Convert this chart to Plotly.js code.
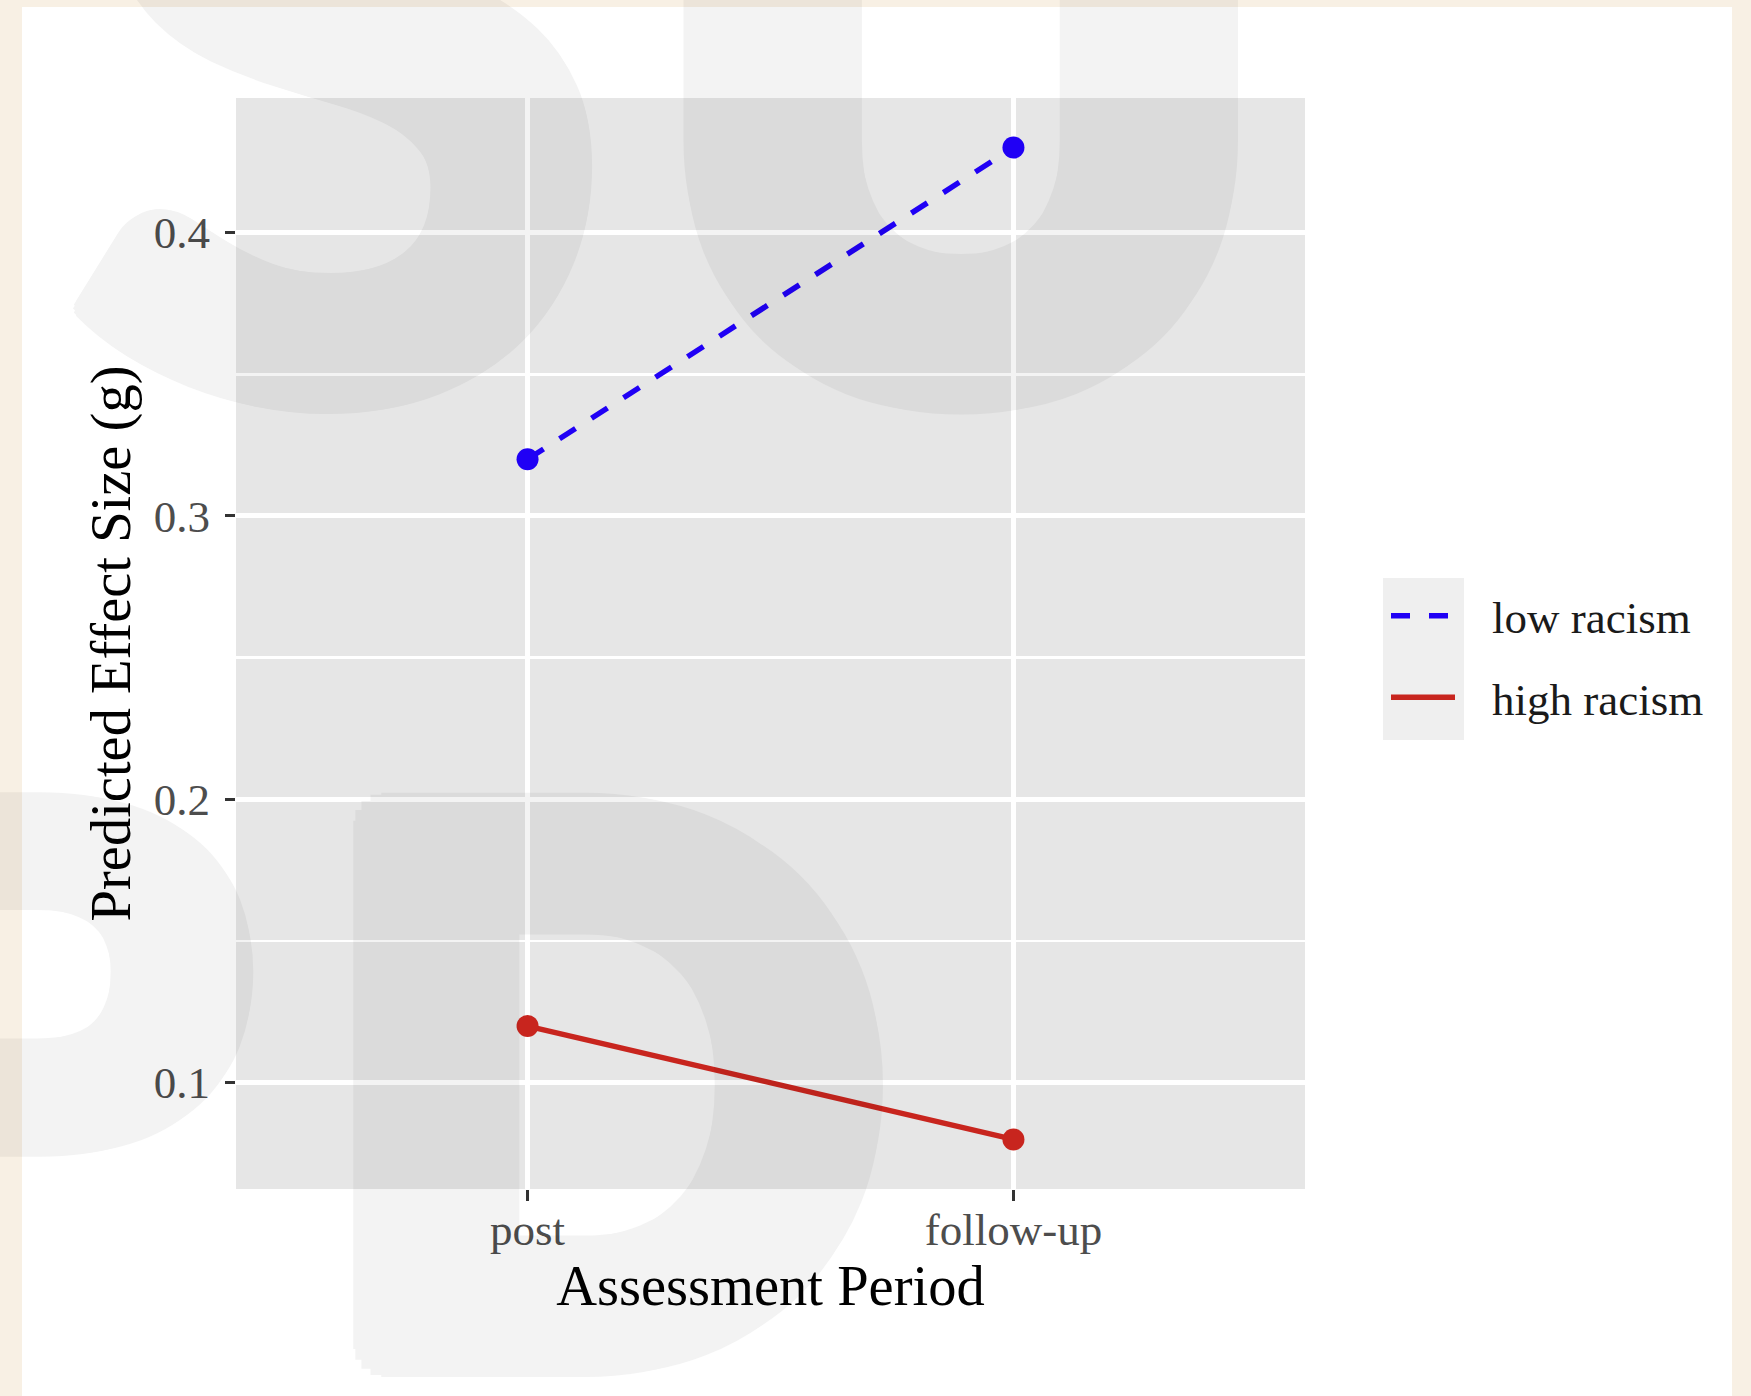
<!DOCTYPE html>
<html><head><meta charset="utf-8">
<script src="https://cdn.plot.ly/plotly-3.0.1.min.js"></script>
<style>
html,body{margin:0;padding:0;background:#f8f0e4;width:1751px;height:1396px;overflow:hidden;}
#white{position:absolute;left:22px;top:7px;width:1710px;height:1389px;background:#ffffff;}
#chart{position:absolute;left:0;top:0;width:1751px;height:1396px;}
</style></head><body>
<div id="white"></div><div id="chart"></div>
<script>
// ---- data ----
const periods = ['post', 'follow-up'];
const lowRacism = [0.32, 0.43];
const highRacism = [0.12, 0.08];
const seriesNames = ['low racism', 'high racism'];
const yTickVals = [0.1, 0.2, 0.3, 0.4];
const yTickText = ['0.1', '0.2', '0.3', '0.4'];
const xTitle = 'Assessment Period';
const yTitle = 'Predicted Effect Size (g)';
const watermarkLetters = ['S', 'U', 'P', 'D'];

// ---- layout helpers ----
const W = 1751, H = 1396;
const M = {l: 236, r: 446, t: 98, b: 207};
const PW = W - M.l - M.r, PH = H - M.t - M.b;
const px = v => (v - M.l) / PW;
const py = v => (H - M.b - v) / PH;

const serif = 'Liberation Serif, Times New Roman, serif';
const blue = '#2000f5';
const red = '#c8251e';

const traces = [
  {x: periods, y: lowRacism, name: seriesNames[0], type: 'scatter', mode: 'lines',
   line: {color: blue, width: 5.5, dash: '19px,19px'}, legendgroup: 'a', showlegend: true, hoverinfo: 'skip'},
  {x: periods, y: highRacism, name: seriesNames[1], type: 'scatter', mode: 'lines',
   line: {color: red, width: 5.5}, legendgroup: 'b', showlegend: true, hoverinfo: 'skip'},
  {x: periods, y: lowRacism, name: seriesNames[0], type: 'scatter', mode: 'markers',
   marker: {color: blue, size: 22}, showlegend: false, legendgroup: 'a', hoverinfo: 'skip'},
  {x: periods, y: highRacism, name: seriesNames[1], type: 'scatter', mode: 'markers',
   marker: {color: red, size: 22}, showlegend: false, legendgroup: 'b', hoverinfo: 'skip'}
];

// heavy watermark: glyph thickened with a ring of zero-blur shadows, whole group made faint
function ringShadow(R) {
  if (!R) return 'none';
  const parts = [];
  for (let k = 0; k < 16; k++) {
    const a = k * Math.PI / 8;
    parts.push((R * Math.cos(a)).toFixed(1) + 'px ' + (R * Math.sin(a)).toFixed(1) + 'px 0 #000');
    parts.push((R * 0.5 * Math.cos(a)).toFixed(1) + 'px ' + (R * 0.5 * Math.sin(a)).toFixed(1) + 'px 0 #000');
  }
  return parts.join(', ');
}
const wm = (t, x, y, xa, s, R) => ({text: t, xref: 'paper', yref: 'paper', x: px(x), y: py(y), xanchor: xa, yanchor: 'top',
  showarrow: false, opacity: 0.045,
  font: {family: 'Lato, sans-serif', size: s, color: '#000', weight: 900, shadow: ringShadow(R)}});
const annotations = [
  wm(watermarkLetters[0], 62, -593, 'left', 1000, 10),
  wm(watermarkLetters[1], 655, -426, 'left', 815, 28),
  wm(watermarkLetters[2], 249, 632, 'right', 682, 20),
  wm(watermarkLetters[3], 324, 628, 'left', 728, 28)
];

const layout = {
  width: W, height: H,
  margin: M,
  paper_bgcolor: 'rgba(0,0,0,0)',
  plot_bgcolor: '#e6e6e6',
  font: {family: serif, color: '#000'},
  showlegend: true,
  legend: {
    x: px(1386), y: py(580), xanchor: 'left', yanchor: 'top',
    bgcolor: 'rgba(0,0,0,0)', borderwidth: 0,
    font: {family: serif, size: 45, color: '#1a1a1a'},
    itemwidth: 96, traceorder: 'grouped', tracegroupgap: 20
  },
  xaxis: {
    type: 'category', categoryorder: 'array', categoryarray: periods,
    range: [-0.6, 1.6], fixedrange: true,
    showgrid: true, gridcolor: '#ffffff', gridwidth: 5,
    zeroline: false, showline: false,
    ticks: 'outside', ticklen: 11, tickwidth: 3, tickcolor: '#333333',
    tickfont: {family: serif, size: 45, color: '#4d4d4d'},
    ticklabelstandoff: -10,
    title: {text: xTitle, font: {family: serif, size: 56.5, color: '#000'}, standoff: 8},
    automargin: false
  },
  yaxis: {
    range: [0.0625, 0.4475], fixedrange: true,
    tickmode: 'array', tickvals: yTickVals, ticktext: yTickText,
    showgrid: true, gridcolor: '#ffffff', gridwidth: 5,
    minor: {tickmode: 'array', tickvals: [0.15, 0.25, 0.35], showgrid: true, gridcolor: '#ffffff', gridwidth: 2.5, ticks: ''},
    zeroline: false, showline: false,
    ticks: 'outside', ticklen: 10, tickwidth: 3, tickcolor: '#333333',
    tickfont: {family: serif, size: 45, color: '#4d4d4d'},
    ticklabelstandoff: 6,
    title: {text: yTitle, font: {family: serif, size: 56.5, color: '#000'}, standoff: 4},
    automargin: false
  },
  shapes: [
    {type: 'rect', xref: 'paper', yref: 'paper', x0: px(1383), x1: px(1464), y0: py(740), y1: py(578),
     fillcolor: '#efefef', line: {width: 0}, layer: 'below'}
  ],
  annotations: annotations
};

Plotly.newPlot('chart', traces, layout, {staticPlot: true, displayModeBar: false}).then(gd => {
  gd.querySelectorAll('.legend path.js-line').forEach(p => p.setAttribute('d', 'M5,0h64'));
});
</script>
</body></html>
